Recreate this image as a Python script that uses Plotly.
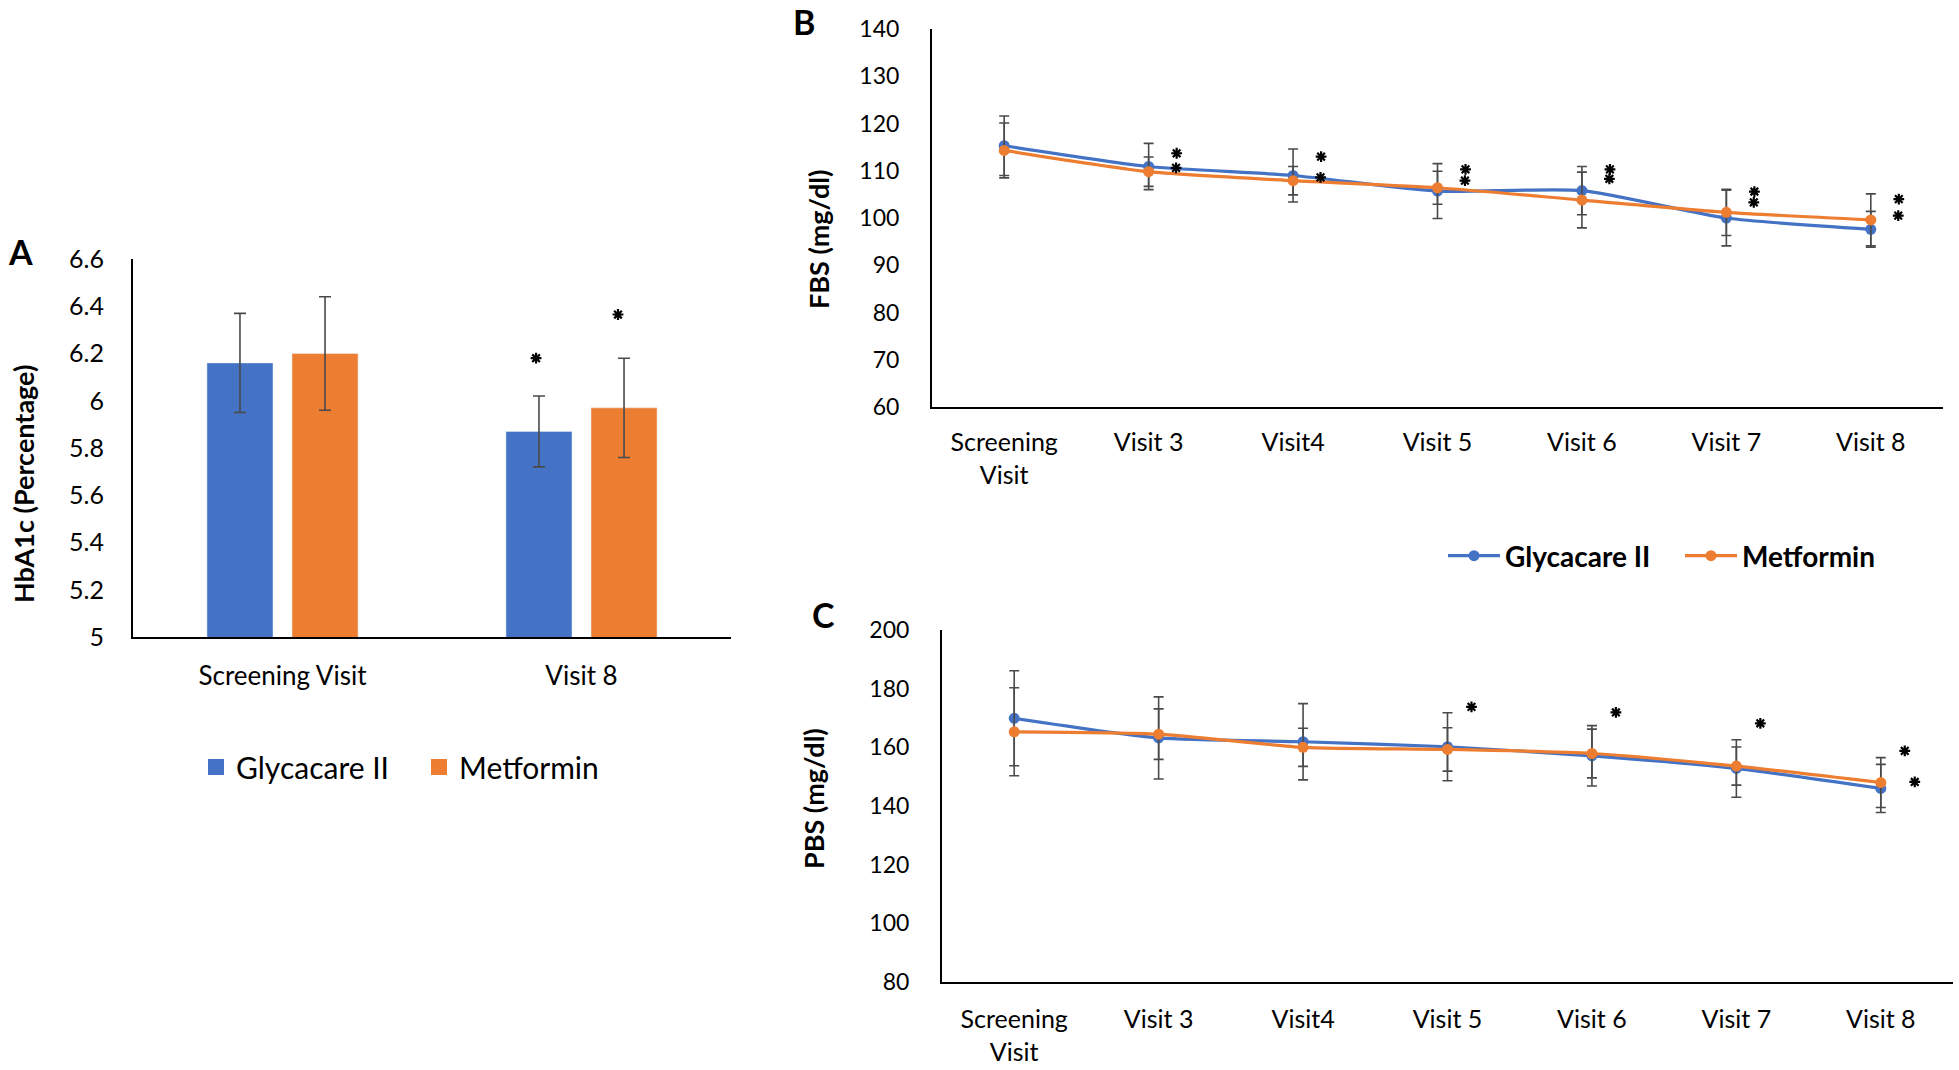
import plotly.graph_objects as go

# ---------------- data ----------------
hba1c_visits = ["Screening Visit", "Visit 8"]
hba1c_glycacare = [6.16, 5.87]
hba1c_glycacare_err = [0.21, 0.15]
hba1c_metformin = [6.20, 5.97]
hba1c_metformin_err = [0.24, 0.21]
hba1c_star_glycacare = [None, 6.18]
hba1c_star_metformin = [None, 6.365]

visits = ["Screening Visit", "Visit 3", "Visit4", "Visit 5", "Visit 6", "Visit 7", "Visit 8"]

fbs_glycacare = [115.3, 110.9, 109.0, 105.7, 105.8, 100.0, 97.6]
fbs_glycacare_err = [6.3, 4.9, 5.6, 5.8, 5.1, 5.9, 3.8]
fbs_metformin = [114.3, 109.8, 107.9, 106.4, 103.8, 101.2, 99.6]
fbs_metformin_err = [5.8, 3.1, 3.0, 3.5, 5.9, 4.9, 5.5]
fbs_star_upper = [None, 113.7, 113.0, 110.3, 110.3, 105.6, 104.0]
fbs_star_lower = [None, 110.6, 108.6, 107.9, 108.3, 103.3, 100.5]

pbs_glycacare = [169.9, 163.2, 161.9, 160.2, 157.1, 152.8, 146.0]
pbs_glycacare_err = [16.2, 14.0, 13.0, 11.6, 10.3, 9.8, 8.2]
pbs_metformin = [165.3, 164.5, 160.0, 159.3, 157.9, 153.6, 148.0]
pbs_metformin_err = [15.0, 8.6, 6.5, 7.4, 8.3, 6.5, 8.5]
pbs_star_upper = [None, None, None, 173.8, 171.9, 168.2, 158.8]
pbs_star_lower = [None, None, None, None, None, None, 148.2]

# ---------------- style ----------------
W, H = 1959, 1070
BLUE = "#4472C4"
ORANGE = "#ED7D31"
ERR = "#4a4a4a"
FONT = "Lato"

def px_x(p):
    return p / W

def px_y(p):
    return 1 - p / H

a_pos = list(range(len(hba1c_visits)))
v_pos = list(range(len(visits)))

def shifted(positions, values, shift):
    xs, ys = [], []
    for p, v in zip(positions, values):
        if v is not None:
            xs.append(p + shift)
            ys.append(v)
    return xs, ys

STAR_MARKER = dict(symbol="asterisk-open", size=9, color="black", line=dict(color="black", width=2.2))

fig = go.Figure()

# ---- Panel A: bars ----
fig.add_trace(go.Bar(
    x=a_pos, y=hba1c_glycacare, name="Glycacare II",
    marker=dict(color=BLUE),
    error_y=dict(type="data", array=hba1c_glycacare_err, color=ERR, thickness=1.6, width=6),
    xaxis="x", yaxis="y", showlegend=False,
))
fig.add_trace(go.Bar(
    x=a_pos, y=hba1c_metformin, name="Metformin",
    marker=dict(color=ORANGE),
    error_y=dict(type="data", array=hba1c_metformin_err, color=ERR, thickness=1.6, width=6),
    xaxis="x", yaxis="y", showlegend=False,
))
for vals, sh in [(hba1c_star_glycacare, -0.152), (hba1c_star_metformin, 0.122)]:
    xs, ys = shifted(a_pos, vals, sh)
    fig.add_trace(go.Scatter(x=xs, y=ys, mode="markers", marker=STAR_MARKER,
                             xaxis="x", yaxis="y", showlegend=False, hoverinfo="skip"))
# legend entries for panel A (square swatches)
for nm, col in [("Glycacare II", BLUE), ("Metformin", ORANGE)]:
    fig.add_trace(go.Scatter(
        x=[None], y=[None], mode="markers", name=nm,
        marker=dict(symbol="square", size=19, color=col),
        xaxis="x", yaxis="y", legend="legend", showlegend=True,
    ))

# ---- Panel B: FBS lines ----
for vals, err, col, nm in [
    (fbs_glycacare, fbs_glycacare_err, BLUE, "Glycacare II"),
    (fbs_metformin, fbs_metformin_err, ORANGE, "Metformin"),
]:
    fig.add_trace(go.Scatter(
        x=v_pos, y=vals, name=nm, mode="lines+markers",
        line=dict(color=col, width=3.2, shape="spline", smoothing=0.6),
        marker=dict(color=col, size=11),
        error_y=dict(type="data", array=err, color=ERR, thickness=1.6, width=5),
        xaxis="x2", yaxis="y2", legend="legend2", showlegend=True,
    ))
for vals, sh in [(fbs_star_upper, 0.194), (fbs_star_lower, 0.19)]:
    xs, ys = shifted(v_pos, vals, sh)
    fig.add_trace(go.Scatter(x=xs, y=ys, mode="markers", marker=STAR_MARKER,
                             xaxis="x2", yaxis="y2", showlegend=False, hoverinfo="skip"))

# ---- Panel C: PBS lines ----
for vals, err, col, nm in [
    (pbs_glycacare, pbs_glycacare_err, BLUE, "Glycacare II"),
    (pbs_metformin, pbs_metformin_err, ORANGE, "Metformin"),
]:
    fig.add_trace(go.Scatter(
        x=v_pos, y=vals, name=nm, mode="lines+markers",
        line=dict(color=col, width=3.2, shape="spline", smoothing=0.6),
        marker=dict(color=col, size=11),
        error_y=dict(type="data", array=err, color=ERR, thickness=1.6, width=5),
        xaxis="x3", yaxis="y3", showlegend=False,
    ))
for vals, sh in [(pbs_star_upper, 0.166), (pbs_star_lower, 0.235)]:
    xs, ys = shifted(v_pos, vals, sh)
    fig.add_trace(go.Scatter(x=xs, y=ys, mode="markers", marker=STAR_MARKER,
                             xaxis="x3", yaxis="y3", showlegend=False, hoverinfo="skip"))

# ---------------- annotations (titles, panel letters) ----------------
ann = []
TITLE_FONT = dict(family=FONT, size=27, color="black", weight="bold")
for txt, tx, ty in [("HbA1c (Percentage)", 23, 484), ("FBS (mg/dl)", 818, 240), ("PBS (mg/dl)", 813, 799)]:
    ann.append(dict(text=txt, x=px_x(tx), y=px_y(ty), xref="paper", yref="paper",
                    textangle=-90, showarrow=False, font=TITLE_FONT, xanchor="center", yanchor="middle"))

LETTER_FONT = dict(family=FONT, size=34, color="black", weight="bold")
for letter, lx, ly in [("A", 20, 252), ("B", 804, 21), ("C", 823, 614)]:
    ann.append(dict(text=letter, x=px_x(lx), y=px_y(ly), xref="paper", yref="paper",
                    showarrow=False, font=LETTER_FONT, xanchor="center", yanchor="middle"))

# ---------------- axes ----------------
common_x = dict(type="linear", showline=True, linecolor="black", linewidth=2, showgrid=False,
                zeroline=False, ticks="", fixedrange=True, automargin=False)
common_y = dict(showline=True, linecolor="black", linewidth=2, showgrid=False, zeroline=False,
                ticks="", automargin=False)

visit_ticktext = [v.replace("Screening Visit", "Screening<br>Visit") for v in visits]

fig.update_layout(
    width=W, height=H,
    margin=dict(l=0, r=0, t=0, b=0, autoexpand=False),
    paper_bgcolor="white", plot_bgcolor="white",
    font=dict(family=FONT, color="black"),
    barmode="group", bargap=0.431, bargroupgap=0.2235,
    xaxis=dict(common_x, domain=[px_x(133), px_x(731)], anchor="y",
               range=[-0.5, len(a_pos) - 0.5], tickvals=a_pos, ticktext=hba1c_visits,
               tickfont=dict(family=FONT, size=26, color="black"), ticklabelstandoff=15),
    yaxis=dict(common_y, domain=[px_y(637), px_y(259)], anchor="x",
               range=[5, 6.6], dtick=0.2,
               tickfont=dict(family=FONT, size=25, color="black"), ticklabelstandoff=22),
    xaxis2=dict(common_x, domain=[px_x(932), px_x(1943)], anchor="y2",
                range=[-0.5, len(v_pos) - 0.5], tickvals=v_pos, ticktext=visit_ticktext,
                tickfont=dict(family=FONT, size=25, color="black"), ticklabelstandoff=12),
    yaxis2=dict(common_y, domain=[px_y(407), px_y(29)], anchor="x2",
                range=[60, 140], dtick=10,
                tickfont=dict(family=FONT, size=23, color="black"), ticklabelstandoff=26),
    xaxis3=dict(common_x, domain=[px_x(942), px_x(1953)], anchor="y3",
                range=[-0.5, len(v_pos) - 0.5], tickvals=v_pos, ticktext=visit_ticktext,
                tickfont=dict(family=FONT, size=25, color="black"), ticklabelstandoff=14),
    yaxis3=dict(common_y, domain=[px_y(982), px_y(630)], anchor="x3",
                range=[80, 200], dtick=20,
                tickfont=dict(family=FONT, size=23, color="black"), ticklabelstandoff=26),
    legend=dict(orientation="h", x=px_x(196), xanchor="left", y=px_y(767), yanchor="middle",
                font=dict(family=FONT, size=30, color="black"), bgcolor="rgba(0,0,0,0)",
                entrywidth=178, entrywidthmode="pixels",
                itemclick=False, itemdoubleclick=False),
    legend2=dict(orientation="h", x=px_x(1443), xanchor="left", y=px_y(556), yanchor="middle",
                 font=dict(family=FONT, size=28, color="black", weight="bold"), bgcolor="rgba(0,0,0,0)",
                 itemwidth=52, entrywidth=170, entrywidthmode="pixels",
                 itemclick=False, itemdoubleclick=False),
    annotations=ann,
    showlegend=True,
)

fig.write_html(
    "out.html",
    config={"displayModeBar": False},
    post_script="document.body.style.margin='0';document.body.style.overflow='hidden';",
)
